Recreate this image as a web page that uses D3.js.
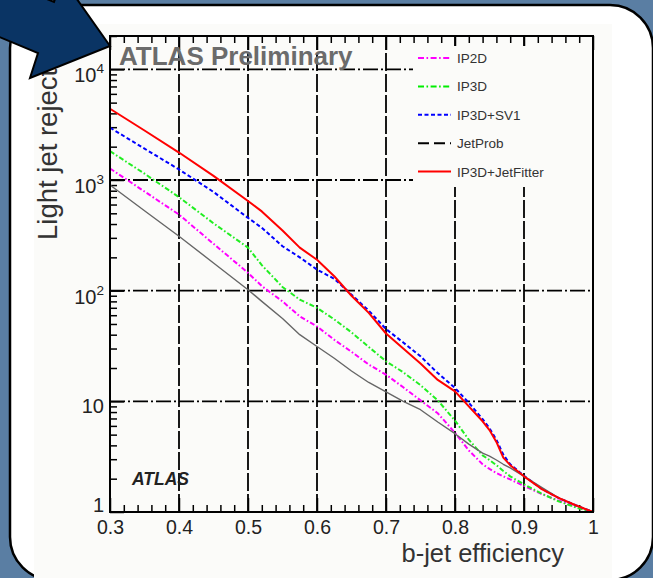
<!DOCTYPE html>
<html><head><meta charset="utf-8">
<script src="https://cdn.jsdelivr.net/npm/d3@7"></script>
<style>html,body{margin:0;padding:0;background:#5a7ea3;} svg{display:block;}</style>
</head><body>
<svg id="c" width="653" height="578"></svg>
<script>
// ---- data ----
const efficiency = [0.30,0.35,0.40,0.45,0.50,0.52,0.55,0.575,0.60,0.625,0.65,0.675,0.70,0.725,0.75,0.775,0.80,0.82,0.84,0.85,0.86,0.87,0.88,0.90,0.925,0.95,0.975,1.00];
const rejIP2D      = [1270,787,487,265,145,110,80,58.5,47.5,36,28,21.5,17.4,13.4,10.2,7.8,5.2,3.6,2.7,2.45,2.25,2.1,1.97,1.72,1.46,1.27,1.12,1.0];
const rejIP3D      = [1820,1140,700,406,245,170,108,83,70,55,42,31,23,18.3,14,10.2,6.7,4.5,3.25,2.95,2.65,2.35,2.1,1.78,1.47,1.25,1.1,1.0];
const rejIP3DSV1   = [2970,1920,1245,780,455,370,252,200,155,128,92,66,45,34,25.5,18,13.2,9.7,6.9,5.7,4.5,3.3,2.7,2.12,1.63,1.34,1.15,1.0];
const rejJetProb   = [900,527,310,178,102,80,56,40,31.3,24.5,18.8,14.8,12.2,10,8.4,6.5,5.1,4.1,3.4,3.2,2.95,2.7,2.5,2.1,1.68,1.34,1.15,1.0];
const rejJetFitter = [4400,2800,1770,1090,645,520,350,245,190,135,90,63,41,30,22,15.6,12.3,9.0,6.6,5.5,4.3,3.1,2.65,2.1,1.62,1.34,1.15,1.0];
const seriesNames  = ["IP2D","IP3D","IP3D+SV1","JetProb","IP3D+JetFitter"];
const seriesColors = ["#ff00ff","#00ee00","#0000ff","#000000","#ff0000"];
const xTickValues  = [0.3,0.4,0.5,0.6,0.7,0.8,0.9,1.0];
const xTickLabels  = ["0.3","0.4","0.5","0.6","0.7","0.8","0.9","1"];
const yTickValues  = [1,10,100,1000,10000];

const series = [rejIP2D, rejIP3D, rejIP3DSV1, rejJetProb, rejJetFitter];
const dashes = ["5,2.2,1.6,2.2","5,2.2,1.6,2.2","4,2.5",null,null];
const widths = [2,2,2,1.4,2];
const plotColors = ["#ff00ff","#22ee22","#0000ff","#666666","#ff0000"];
const legendDash = ["6,2.5,1.6,2.5","6,2.5,1.6,2.5","4,2.5","11,5",null];

const FONT = "'Liberation Sans', Arial, Helvetica, sans-serif";
const svg = d3.select("#c");

// slide background
svg.append("rect").attr("width",653).attr("height",578).attr("fill","#5a7ea3");
svg.append("rect").attr("x",10).attr("y",5).attr("width",643).attr("height",575)
  .attr("rx",43).attr("ry",43).attr("fill","#ffffff").attr("stroke","#000").attr("stroke-width",2.5);
svg.append("rect").attr("x",34).attr("y",24).attr("width",578).attr("height",556).attr("fill","#fbfbf9");

// scales
const L=110, R=593, T=36, B=512;
const x = d3.scaleLinear().domain([0.3,1.0]).range([L,R]);
const y = d3.scaleLog().domain([1,20000]).range([B,T]);

const g = svg.append("g");

// grid
const gridStyle = "15,3,2,3";
g.append("g").selectAll("line").data(xTickValues.slice(1,-1)).join("line")
  .attr("x1",d=>x(d)).attr("x2",d=>x(d)).attr("y1",B).attr("y2",T)
  .attr("stroke","#000").attr("stroke-width",1.8).attr("stroke-dasharray","18,3");
g.append("g").selectAll("line").data(yTickValues.slice(1)).join("line")
  .attr("x1",L).attr("x2",R).attr("y1",d=>y(d)).attr("y2",d=>y(d))
  .attr("stroke","#000").attr("stroke-width",1.8).attr("stroke-dasharray",gridStyle);

// axes
const xMinor = d3.range(0.30,1.0001,0.02).map(v=>+v.toFixed(2)).filter(v=>!xTickValues.some(t=>Math.abs(t-v)<1e-6));
const yMinor = [];
for (let e=0;e<5;e++) for (let k=2;k<=9;k++){ const v=k*Math.pow(10,e); if (v<=20000) yMinor.push(v); }

function styleAxis(sel){ sel.select(".domain").remove(); sel.selectAll(".tick line").attr("stroke","#000").attr("stroke-width",1.5); }

const xAx = g.append("g").attr("transform",`translate(0,${B})`)
  .call(d3.axisBottom(x).tickValues(xTickValues).tickSize(-14).tickPadding(8).tickFormat((d,i)=>xTickLabels[i]));
styleAxis(xAx);
xAx.selectAll("text").attr("font-family",FONT).attr("font-size",19.5).attr("fill","#222");
const xAxm = g.append("g").attr("transform",`translate(0,${B})`)
  .call(d3.axisBottom(x).tickValues(xMinor).tickSize(-7).tickFormat(""));
styleAxis(xAxm);
const xTop = g.append("g").attr("transform",`translate(0,${T})`)
  .call(d3.axisTop(x).tickValues(xTickValues).tickSize(-14).tickFormat(""));
styleAxis(xTop);
const xTopm = g.append("g").attr("transform",`translate(0,${T})`)
  .call(d3.axisTop(x).tickValues(xMinor).tickSize(-7).tickFormat(""));
styleAxis(xTopm);

const yAx = g.append("g").attr("transform",`translate(${L},0)`)
  .call(d3.axisLeft(y).tickValues(yTickValues).tickSize(-14).tickPadding(6));
styleAxis(yAx);
yAx.selectAll(".tick text").each(function(d){
  const t = d3.select(this); t.text(null);
  t.attr("font-family",FONT).attr("font-size",20).attr("fill","#222");
  const e = Math.round(Math.log10(d));
  if (e===0){ t.attr("dy",null).attr("y",-1).text("1"); }
  else if (e===1){ t.attr("dy",null).attr("y",11).text("10"); }
  else { t.attr("dy",null).attr("y",12.5); t.append("tspan").text("10"); t.append("tspan").attr("dy",-9).attr("font-size",13.5).text(e); }
});
const yAxm = g.append("g").attr("transform",`translate(${L},0)`)
  .call(d3.axisLeft(y).tickValues(yMinor).tickSize(-7).tickFormat(""));
styleAxis(yAxm);

// legend background (hides grid)
g.append("rect").attr("x",413).attr("y",46).attr("width",179).attr("height",141).attr("fill","#fbfbf9");

// curves
const line = d3.line().x((d,i)=>x(efficiency[i])).y(d=>y(d));
series.forEach((s,i)=>{
  g.append("path").attr("d",line(s)).attr("fill","none")
   .attr("stroke",plotColors[i]).attr("stroke-width",widths[i])
   .attr("stroke-dasharray",dashes[i]).attr("stroke-linejoin","round");
});

// frame
g.append("rect").attr("x",L).attr("y",T).attr("width",R-L).attr("height",B-T)
  .attr("fill","none").attr("stroke","#000").attr("stroke-width",2);

// legend
const lg = g.append("g");
seriesNames.forEach((n,i)=>{
  const yy = 58 + i*28.4;
  lg.append("line").attr("x1",418).attr("x2",451).attr("y1",yy).attr("y2",yy)
    .attr("stroke",seriesColors[i]).attr("stroke-width",2).attr("stroke-dasharray",legendDash[i]);
  lg.append("text").attr("x",457).attr("y",yy+5).attr("font-family",FONT).attr("font-size",13.5)
    .attr("fill","#333").text(n);
});

// texts
g.append("text").attr("x",119).attr("y",65).attr("font-family",FONT).attr("font-weight","bold")
  .attr("font-size",26).attr("fill","#6b6b6b").text("ATLAS Preliminary");
g.append("text").attr("x",132).attr("y",485).attr("font-family",FONT).attr("font-weight","bold")
  .attr("font-style","italic").attr("font-size",17.5).attr("fill","#222").text("ATLAS");
g.append("text").attr("x",564).attr("y",562).attr("text-anchor","end").attr("font-family",FONT)
  .attr("font-size",25.5).attr("fill","#333").text("b-jet efficiency");
g.append("text").attr("transform","translate(57,240) rotate(-90)").attr("font-family",FONT)
  .attr("font-size",27.5).attr("fill","#333").text("Light jet rejection");

// arrow
svg.append("path").attr("d","M110,46 L62,-22 L54,2 L-20,-29 L-20,29 L38,53 L30,78 Z")
  .attr("fill","#0a3464").attr("stroke","#000").attr("stroke-width",2).attr("stroke-linejoin","miter");
</script>
</body></html>
